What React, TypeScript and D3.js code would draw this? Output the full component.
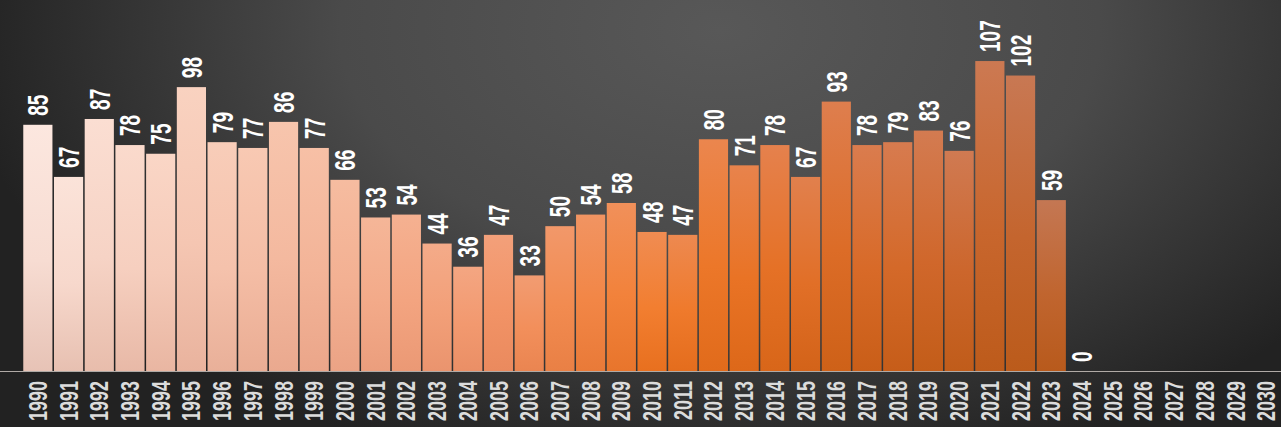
import React from 'react';
import * as d3 from 'd3';

const years = [
  '1990', '1991', '1992', '1993', '1994', '1995', '1996', '1997', '1998', '1999',
  '2000', '2001', '2002', '2003', '2004', '2005', '2006', '2007', '2008', '2009',
  '2010', '2011', '2012', '2013', '2014', '2015', '2016', '2017', '2018', '2019',
  '2020', '2021', '2022', '2023', '2024', '2025', '2026', '2027', '2028', '2029', '2030',
];

// 1990..2024, no data after
const counts = [
  85, 67, 87, 78, 75, 98, 79, 77, 86, 77,
  66, 53, 54, 44, 36, 47, 33, 50, 54, 58,
  48, 47, 80, 71, 78, 67, 93, 78, 79, 83,
  76, 107, 102, 59, 0,
];

const W = 1281;
const H = 427;
const FONT = '"Liberation Sans", Arial, sans-serif';

// colour ramp along the years (top / middle / bottom of each bar)
const rampYears = [1990, 2000, 2005, 2010, 2013, 2017, 2020, 2023];
const topCols = ['#fce7df', '#f6bca0', '#f3a07a', '#f08c52', '#e8834c', '#da7c4e', '#d07a52', '#c47753'];
const midCols = ['#f7dcd2', '#f3b092', '#f29366', '#f27e30', '#e97325', '#d86a28', '#cc662c', '#c0652f'];
const botCols = ['#e7c3b6', '#eba385', '#ea8a5e', '#e8701f', '#dd6819', '#c95e18', '#c05c1a', '#b85a1c'];

export default function App() {
  const x = d3
    .scaleBand<string>()
    .domain(years)
    .range([22.5, 1281.6])
    .paddingInner(0.05)
    .paddingOuter(0.025);
  const y = d3.scaleLinear([0, 120], [371, 23.4]);

  const topScale = d3.scaleLinear<string>(rampYears, topCols).clamp(true);
  const midScale = d3.scaleLinear<string>(rampYears, midCols).clamp(true);
  const botScale = d3.scaleLinear<string>(rampYears, botCols).clamp(true);

  const bars = counts.map((v, i) => ({ year: years[i], value: v }));

  return (
    <svg
      width={W}
      height={H}
      style={{ position: 'absolute', left: 0, top: 0, display: 'block' }}
    >
      <defs>
        <radialGradient
          id="bg"
          gradientUnits="userSpaceOnUse"
          cx={0}
          cy={0}
          r={1}
          gradientTransform="translate(720,30) scale(760,460)"
        >
          <stop offset="0" stopColor="#585858" />
          <stop offset="0.5" stopColor="#4a4a4a" />
          <stop offset="1" stopColor="#222222" />
        </radialGradient>
        {bars.map((d) => {
          const yr = +d.year;
          return (
            <linearGradient key={d.year} id={`g${d.year}`} x1="0" y1="0" x2="0" y2="1">
              <stop offset="0" stopColor={topScale(yr)} />
              <stop offset="0.55" stopColor={midScale(yr)} />
              <stop offset="1" stopColor={botScale(yr)} />
            </linearGradient>
          );
        })}
      </defs>
      <rect x={0} y={0} width={W} height={H} fill="url(#bg)" />

      {bars.map((d) => (
        <rect
          key={d.year}
          x={x(d.year)}
          y={y(d.value)}
          width={x.bandwidth()}
          height={y(0) - y(d.value)}
          fill={`url(#g${d.year})`}
        />
      ))}

      <line x1={0} x2={W} y1={371.5} y2={371.5} stroke="#b0aaa6" strokeWidth={1.2} />

      {bars.map((d) => {
        const cx = (x(d.year) as number) + x.bandwidth() / 2;
        return (
          <text
            key={d.year}
            transform={`translate(${cx},${y(d.value) - 9}) rotate(-90) scale(0.66,1)`}
            dy="0.36em"
            fill="#ffffff"
            fontFamily={FONT}
            fontWeight="bold"
            fontSize={29}
          >
            {d.value}
          </text>
        );
      })}

      {years.map((yr) => {
        const cx = (x(yr) as number) + x.bandwidth() / 2;
        return (
          <text
            key={yr}
            transform={`translate(${cx},381) rotate(-90) scale(0.72,1)`}
            dy="0.36em"
            textAnchor="end"
            fill="#dcdcdc"
            fontFamily={FONT}
            fontWeight="bold"
            fontSize={25}
          >
            {yr}
          </text>
        );
      })}
    </svg>
  );
}
